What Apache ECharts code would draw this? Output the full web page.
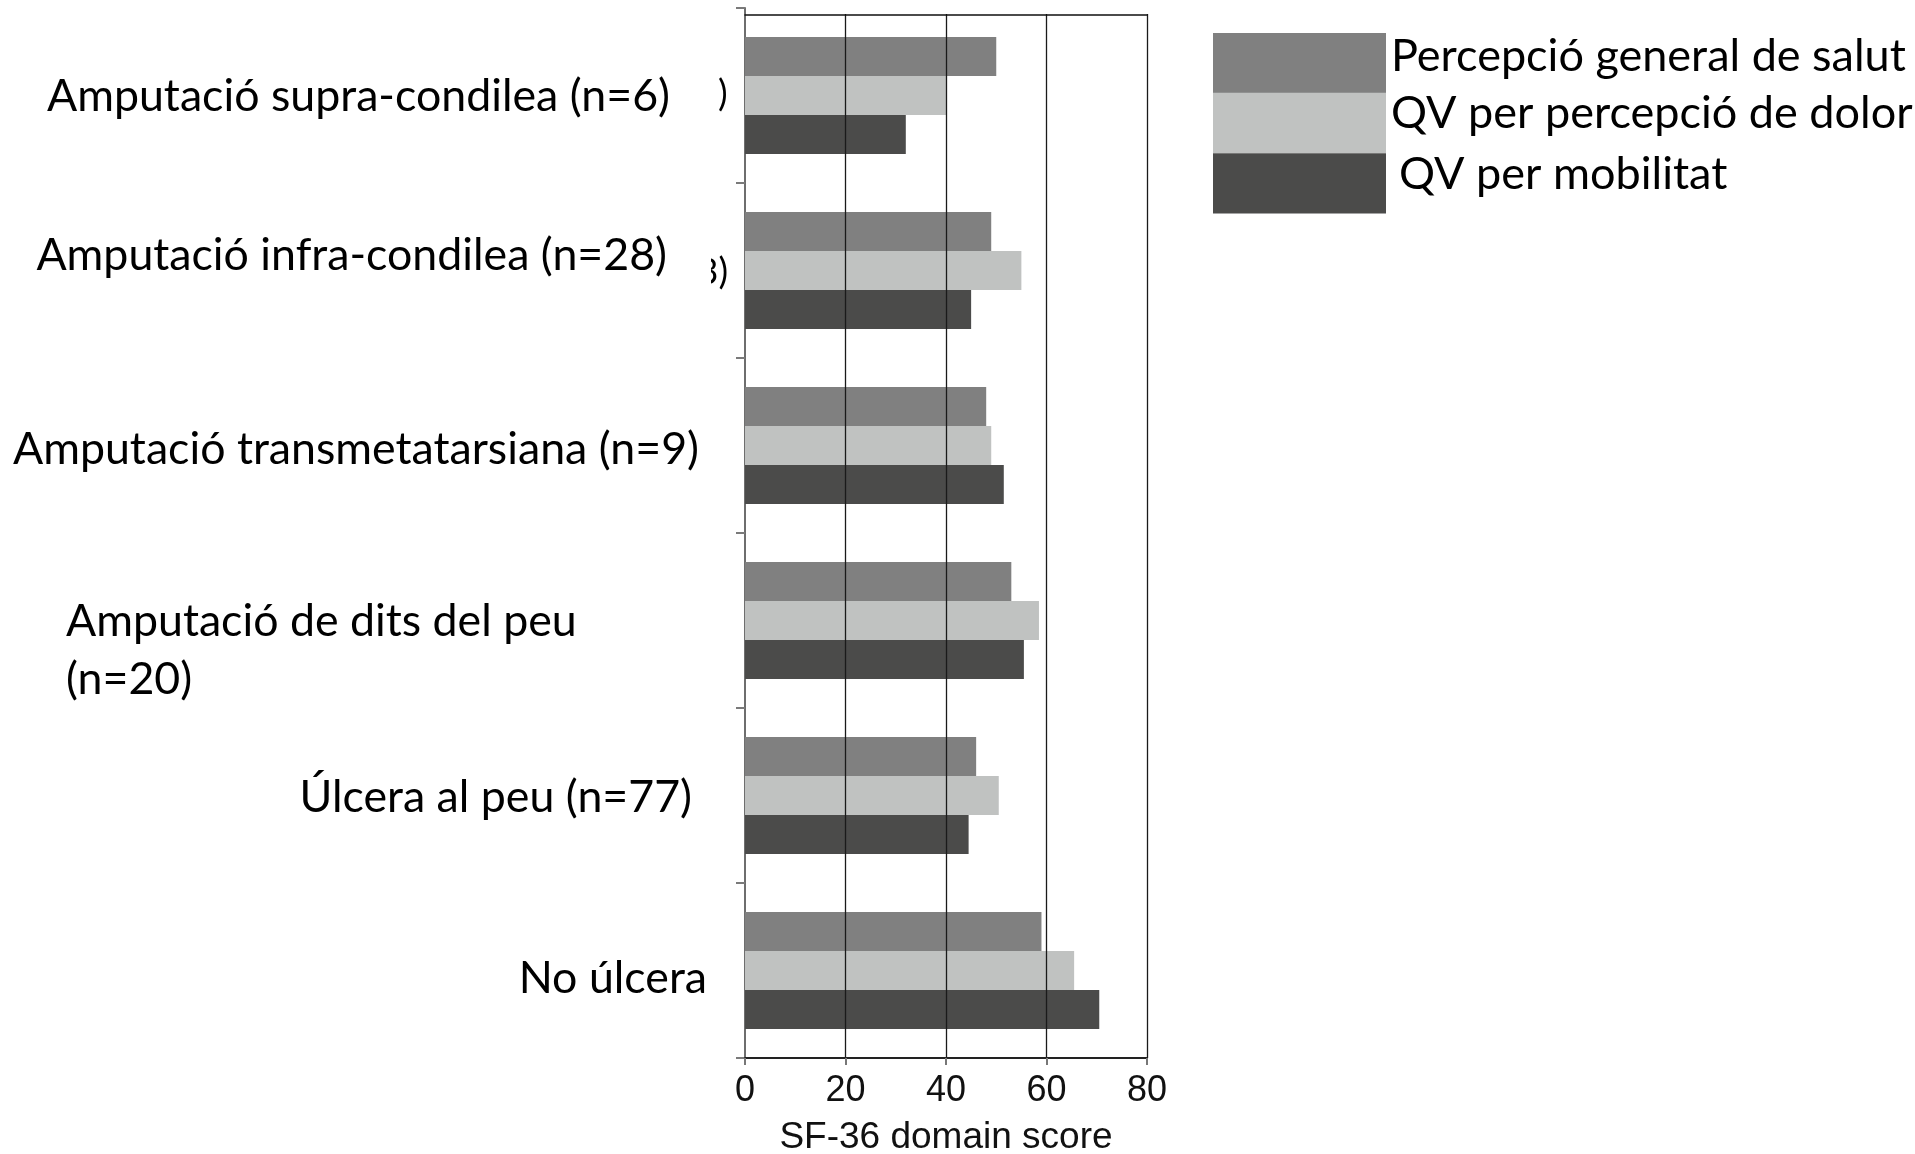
<!DOCTYPE html>
<html>
<head>
<meta charset="utf-8">
<script src="https://cdn.jsdelivr.net/npm/echarts@6/dist/echarts.min.js"></script>
<style>
  html, body { margin: 0; padding: 0; background: #ffffff; }
  #chart { width: 1915px; height: 1154px; }
</style>
</head>
<body>
<div id="chart"></div>
<script>
// Groups of patients (top to bottom)
const categories = [
  'Amputació supra-condilea (n=6)',
  'Amputació infra-condilea (n=28)',
  'Amputació transmetatarsiana (n=9)',
  'Amputació de dits del peu\n(n=20)',
  'Úlcera al peu (n=77)',
  'No úlcera'
];

// SF-36 domains
const seriesNames = [
  'Percepció general de salut',
  'QV per percepció de dolor',
  'QV per mobilitat'
];

// Mean SF-36 domain scores per group
const generalHealth = [50, 49, 48, 53, 46, 59];
const painScore     = [40, 55, 49, 58.5, 50.5, 65.5];
const mobilityScore = [32, 45, 51.5, 55.5, 44.5, 70.5];

// Value axis ticks
const scoreMin = 0;
const scoreMax = 80;
const scoreStep = 20;
const axisTitle = 'SF-36 domain score';

const barColors = ['#808080', '#c0c2c1', '#4b4b4a'];
const labelFont = 'Lato, "Noto Sans", sans-serif';

// Per-label placement: [top, right, bottom, left] padding of each text line
const labelPlacement = [
  [{ padding: [2, 37, 0, 0], align: 'right' }],
  [{ padding: [0, 40, 30, 0], align: 'right' }],
  [{ padding: [8, 8, 0, 0], align: 'right' }],
  [{ padding: [60, 0, 0, 0], align: 'left', width: 641 },
   { padding: [60, 0, 0, 0], align: 'left', width: 641 }],
  [{ padding: [5, 15, 0, 0], align: 'right' }],
  [{ padding: [16, 0, 0, 0], align: 'right' }]
];

const rich = {};
labelPlacement.forEach((lines, i) => {
  lines.forEach((st, j) => {
    rich['r' + i + '_' + j] = Object.assign({
      fontFamily: labelFont,
      fontSize: 44.7,
      lineHeight: 58,
      color: '#000000'
    }, st);
  });
});

// Legend text lines, each nudged slightly upward within its swatch row
const legendRich = {
  l0: { padding: [0, 0, 14, 0] },
  l1: { padding: [0, 0, 18, 0] },
  l2: { padding: [0, 0, 17, 8] }
};
Object.keys(legendRich).forEach(k => {
  legendRich[k] = Object.assign({
    fontFamily: labelFont,
    fontSize: 45,
    lineHeight: 20,
    color: '#000000'
  }, legendRich[k]);
});

const chart = echarts.init(document.getElementById('chart'), null, { renderer: 'canvas' });

const valueSets = [generalHealth, painScore, mobilityScore];

const option = {
  backgroundColor: '#ffffff',
  animation: false,
  grid: {
    left: 745,
    top: 8,
    width: 402,
    height: 1050,
    containLabel: false,
    outerBoundsMode: 'none'
  },
  legend: {
    orient: 'vertical',
    left: 1213,
    top: 33,
    padding: 0,
    itemGap: -2,
    itemWidth: 173,
    itemHeight: 60.4,
    icon: 'rect',
    selectedMode: false,
    data: seriesNames,
    formatter: name => '{l' + seriesNames.indexOf(name) + '|' + name + '}',
    textStyle: {
      fontFamily: labelFont,
      fontSize: 45,
      color: '#000000',
      rich: legendRich
    }
  },
  xAxis: [
    {
      type: 'value',
      position: 'bottom',
      min: scoreMin,
      max: scoreMax,
      interval: scoreStep,
      z: 3,
      name: axisTitle,
      nameLocation: 'middle',
      nameGap: 61,
      nameTextStyle: {
        fontFamily: '"Liberation Sans", Arial, sans-serif',
        fontSize: 37,
        color: '#111111'
      },
      axisLine: { show: true, lineStyle: { color: '#222222', width: 2 } },
      axisTick: { show: true, length: 7, lineStyle: { color: '#777777', width: 2 } },
      axisLabel: {
        margin: 15,
        fontFamily: '"Liberation Sans", Arial, sans-serif',
        fontSize: 36,
        color: '#111111'
      },
      splitLine: {
        show: true,
        showMinLine: false,
        lineStyle: { color: '#1a1a1a', width: 1.3 }
      }
    },
    {
      // frame line along the top of the plot
      type: 'value',
      position: 'top',
      min: scoreMin,
      max: scoreMax,
      interval: scoreStep,
      offset: -7,
      z: 6,
      axisLine: { show: true, lineStyle: { color: '#111111', width: 1.5 } },
      axisTick: { show: false },
      axisLabel: { show: false },
      splitLine: { show: false }
    }
  ],
  yAxis: {
    type: 'category',
    inverse: true,
    data: categories,
    axisLine: { show: true, lineStyle: { color: '#6e6e6e', width: 2 } },
    axisTick: { show: true, length: 9, lineStyle: { color: '#7a7a7a', width: 2 } },
    axisLabel: {
      interval: 0,
      margin: 38,
      formatter: (value, index) =>
        value.split('\n').map((line, j) => '{r' + index + '_' + j + '|' + line + '}').join('\n'),
      rich: rich
    },
    splitLine: { show: false }
  },
  series: seriesNames.map((name, k) => ({
    name: name,
    type: 'bar',
    xAxisIndex: 0,
    data: valueSets[k],
    barWidth: 39,
    barGap: '0%',
    itemStyle: { color: barColors[k] },
    emphasis: { disabled: true }
  })),
  graphic: {
    elements: [
      // keeps the plot clean above the top frame line
      { type: 'rect', left: 747, top: 0, shape: { width: 410, height: 14 },
        style: { fill: '#ffffff' }, z: 5, silent: true },
      // clipped remains of older group labels beside the axis
      { type: 'text', x: 718, y: 94, z: 5, silent: true,
        style: { text: ')', fontFamily: labelFont, fontSize: 36, fill: '#000000',
                 verticalAlign: 'middle', align: 'left' } },
      { type: 'text', x: 728, y: 272, z: 5, silent: true,
        style: { text: '3)', fontFamily: labelFont, fontSize: 36, fill: '#000000',
                 verticalAlign: 'middle', align: 'right' } },
      { type: 'rect', left: 690, top: 248, shape: { width: 21, height: 48 },
        style: { fill: '#ffffff' }, z: 6, silent: true }
    ]
  }
};

chart.setOption(option);
</script>
</body>
</html>
